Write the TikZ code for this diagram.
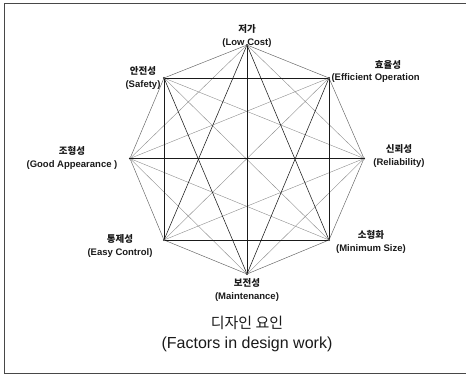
\documentclass[tikz,border=0pt]{standalone}
\usepackage{fontspec}
\setmainfont{Liberation Sans}
\newfontfamily\kr{Noto Sans CJK KR}
\usetikzlibrary{positioning}
\definecolor{Ink}{HTML}{1A1A1A}
\definecolor{Faint}{HTML}{8C8C8C}

\begin{document}
\begin{tikzpicture}[
    x=1pt, y=1pt,
    vtx/.style={circle, fill=Ink, inner sep=0pt, minimum size=2.2pt},
    lbl/.style={align=center, font=\fontsize{9.5}{12.5}\selectfont\bfseries, text=Ink, inner sep=0pt},
    strong/.style={draw=Ink, line width=0.55pt},
    faint/.style={draw=Faint, line width=0.4pt},
    side/.style={draw=Ink!70, line width=0.45pt},
    frame/.style={draw=Ink!80, line width=0.8pt}
  ]
    \useasboundingbox (0,0) rectangle (466,376);
    \draw[frame] (466,373) -- (4,373) -- (4,3) -- (466,3);

    % octagon of design factors
    \node[vtx] (lc) at (247,331) {};
    \node[vtx] (eo) at (329,298) {};
    \node[vtx] (rl) at (364,217.5) {};
    \node[vtx] (ms) at (329,136) {};
    \node[vtx] (mt) at (247,102) {};
    \node[vtx] (ec) at (164,136) {};
    \node[vtx] (ga) at (130,217.5) {};
    \node[vtx] (sf) at (164,298) {};

    % every factor joined to every other
    \foreach \a/\b in {lc/rl, lc/ga, eo/ga, eo/ec, rl/sf, rl/ec, rl/mt, ms/sf, ms/ga, mt/ga}
      \draw[faint] (\a) -- (\b);
    \foreach \a/\b in {lc/eo, eo/rl, rl/ms, ms/mt, mt/ec, ec/ga, ga/sf, sf/lc}
      \draw[side] (\a) -- (\b);
    \foreach \a/\b in {lc/mt, ga/rl, sf/eo, sf/ec, ec/ms, eo/ms, lc/ec, lc/ms, sf/mt, eo/mt}
      \draw[strong] (\a) -- (\b);

    % labels
    \node[lbl] (lcl) at (247,340) {{\kr 저가}\\(Low Cost)};
    \node[lbl] (sfl) at (143,298) {{\kr 안전성}\\(Safety)};
    \node[lbl] (eok) at (388,311) {\kr 효율성};
    \node[lbl, right=1pt of eo] (eol) {(Efficient Operation};
    \node[lbl] (rll) at (399,220) {{\kr 신뢰성}\\(Reliability)};
    \node[lbl] (msl) at (371,134) {{\kr 소형화}\\(Minimum Size)};
    \node[lbl] (mtl) at (247,86) {{\kr 보전성}\\(Maintenance)};
    \node[lbl] (ecl) at (120,130) {{\kr 통제성}\\(Easy Control)};
    \node[lbl] (gal) at (72,218) {{\kr 조형성}\\(Good Appearance )};

    % title
    \node[font=\fontsize{15}{17}\selectfont, text=Ink] (ttl) at (247,53) {\kr 디자인 요인};
    \node[font=\fontsize{16}{18}\selectfont, text=Ink, below=0pt of ttl] (sub) {(Factors in design work)};
  \end{tikzpicture}
\end{document}
